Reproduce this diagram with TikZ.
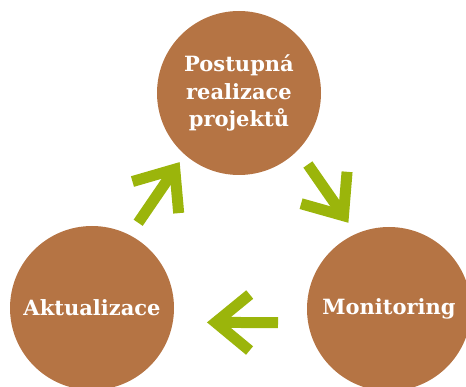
\documentclass[tikz,border=0pt]{standalone}
\usepackage{fontspec}
\setmainfont{DejaVu Serif}
\usetikzlibrary{arrows.meta,calc}

\definecolor{kruh}{HTML}{B57444}
\definecolor{sipka}{HTML}{9BB50B}

\begin{document}
\begin{tikzpicture}[x=1pt, y=-1pt,
    faze/.style={circle, fill=kruh, minimum size=164pt, inner sep=0pt, align=center, text=white, font=\fontsize{21}{27.5}\selectfont\bfseries},
    sip/.style={draw=sipka, line width=11pt, -{Straight Barb[length=34pt, width=56pt]}}
]
\useasboundingbox (0,0) rectangle (466,387);
\clip (0,0) rectangle (466,387);

\node[faze] (post) at (239,93) {Postupná\\realizace\\projektů};
\node[faze] (akt) at (92,308) {Aktualizace};
\node[faze] (mon) at (389,309) {Monitoring};

\draw[sip, shorten <=96pt, shorten >=91pt] ([shift={(-8,-6)}]akt.center) -- ([shift={(-8,-6)}]post.center);
\draw[sip, shorten <=98pt, shorten >=94pt] ([shift={(13,-9)}]post.center) -- ([shift={(13,-9)}]mon.center);
\draw[sip, shorten <=111pt, shorten >=115pt] ([shift={(0,14)}]mon.center) -- ([shift={(0,14)}]akt.center);
\end{tikzpicture}
\end{document}
